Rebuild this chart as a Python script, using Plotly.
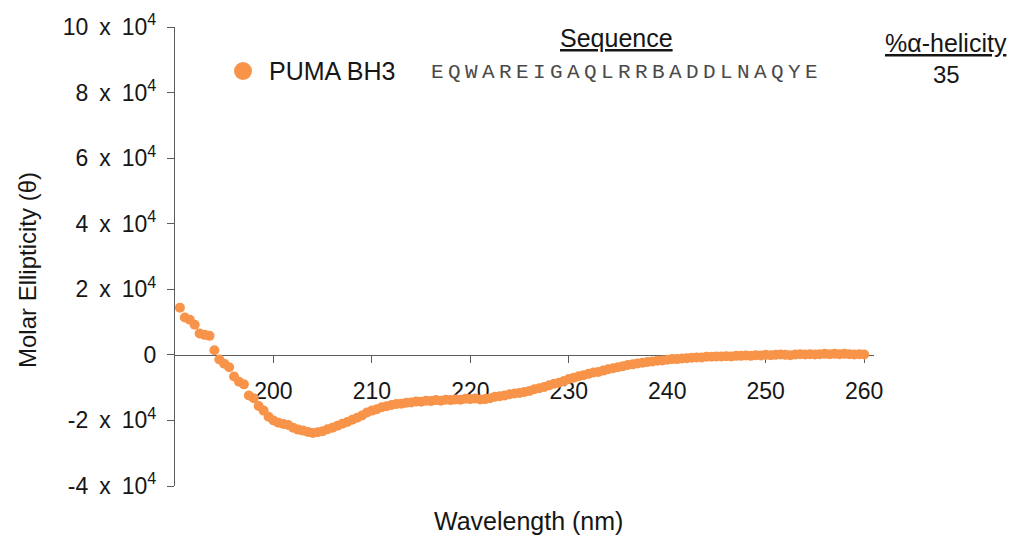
import plotly.graph_objects as go

# ---------------- data ----------------
wavelength_nm = [
    190.5, 191.0, 191.5, 192.0, 192.5, 193.0, 193.5, 194.0, 194.5, 195.0,
    195.5, 196.0, 196.5, 197.0, 197.5, 198.0, 198.5, 199.0, 199.5, 200.0,
    200.5, 201.0, 201.5, 202.0, 202.5, 203.0, 203.5, 204.0, 204.5, 205.0,
    205.5, 206.0, 206.5, 207.0, 207.5, 208.0, 208.5, 209.0, 209.5, 210.0,
    210.5, 211.0, 211.5, 212.0, 212.5, 213.0, 213.5, 214.0, 214.5, 215.0,
    215.5, 216.0, 216.5, 217.0, 217.5, 218.0, 218.5, 219.0, 219.5, 220.0,
    220.5, 221.0, 221.5, 222.0, 222.5, 223.0, 223.5, 224.0, 224.5, 225.0,
    225.5, 226.0, 226.5, 227.0, 227.5, 228.0, 228.5, 229.0, 229.5, 230.0,
    230.5, 231.0, 231.5, 232.0, 232.5, 233.0, 233.5, 234.0, 234.5, 235.0,
    235.5, 236.0, 236.5, 237.0, 237.5, 238.0, 238.5, 239.0, 239.5, 240.0,
    240.5, 241.0, 241.5, 242.0, 242.5, 243.0, 243.5, 244.0, 244.5, 245.0,
    245.5, 246.0, 246.5, 247.0, 247.5, 248.0, 248.5, 249.0, 249.5, 250.0,
    250.5, 251.0, 251.5, 252.0, 252.5, 253.0, 253.5, 254.0, 254.5, 255.0,
    255.5, 256.0, 256.5, 257.0, 257.5, 258.0, 258.5, 259.0, 259.5, 260.0,
]

molar_ellipticity = [
    14400, 11400, 10700, 9200, 6500, 6100, 5800, 1400, -1400, -2700,
    -3800, -6600, -8200, -9000, -12400, -13200, -15600, -17000, -18900, -20000,
    -20700, -21100, -21400, -22200, -22800, -23100, -23500, -23800, -23600, -23300,
    -22700, -22200, -21600, -21000, -20500, -19800, -19200, -18500, -17600, -17000,
    -16600, -16000, -15700, -15300, -15000, -14900, -14600, -14500, -14200, -14300,
    -14000, -14100, -13800, -14000, -13700, -13800, -13600, -13700, -13400, -13500,
    -13300, -13600, -13500, -13200, -12800, -12600, -12400, -12000, -11800, -11600,
    -11300, -11000, -10500, -10200, -9800, -9300, -8800, -8500, -8000, -7400,
    -7000, -6500, -6200, -5800, -5400, -5200, -4800, -4400, -4100, -3800,
    -3500, -3100, -2900, -2600, -2400, -2200, -2000, -1800, -1700, -1500,
    -1300, -1300, -1100, -1000, -900, -800, -800, -600, -600, -500,
    -500, -400, -500, -300, -300, -200, -300, -100, -200, 0,
    -100, 0, 100, 0, -100, 100, 200, 100, 200, 100,
    200, 300, 200, 300, 200, 300, 200, 100, 200, 100,
]

series_name = "PUMA BH3"
sequence = "EQWAREIGAQLRRBADDLNAQYE"
helicity_pct = "35"

x_tick_vals = [200, 210, 220, 230, 240, 250, 260]
y_tick_vals = [-40000, -20000, 0, 20000, 40000, 60000, 80000, 100000]
y_tick_text = ["-4\u2009 x\u2009 10<sup>4</sup>", "-2\u2009 x\u2009 10<sup>4</sup>", "0",
               "2\u2009 x\u2009 10<sup>4</sup>", "4\u2009 x\u2009 10<sup>4</sup>",
               "6\u2009 x\u2009 10<sup>4</sup>", "8\u2009 x\u2009 10<sup>4</sup>",
               "10\u2009 x\u2009 10<sup>4</sup>"]

assert len(wavelength_nm) == len(molar_ellipticity)

# ---------------- style ----------------
ORANGE = "#F8944A"
AXIS = "#5c5c5c"
TXT = "#161616"
FONT = "Liberation Sans, Arial, Helvetica, sans-serif"
MONO = "Liberation Mono, Courier New, monospace"

W, H = 1022, 539
L, R, T, B = 175, 148, 27, 53
pw, ph = W - L - R, H - T - B


def px(xp):
    return (xp - L) / pw


def py(yp):
    return (H - B - yp) / ph


fig = go.Figure()
fig.add_trace(go.Scatter(
    x=wavelength_nm, y=molar_ellipticity, mode="markers",
    name=series_name, showlegend=False,
    marker=dict(color=ORANGE, size=10, line=dict(width=0)),
))

y_min, y_max = -40000, 100000
zero_frac = (0 - y_min) / (y_max - y_min)

fig.update_layout(
    width=W, height=H,
    margin=dict(l=L, r=R, t=T, b=B, autoexpand=False),
    paper_bgcolor="white", plot_bgcolor="white",
    font=dict(family=FONT, size=23, color=TXT),
    xaxis=dict(
        range=[190, 261], anchor="free", position=zero_frac,
        showgrid=False, zeroline=False,
        showline=True, linecolor=AXIS, linewidth=1.3,
        ticks="outside", ticklen=7, tickwidth=1.3, tickcolor=AXIS,
        tickvals=x_tick_vals,
        tickfont=dict(size=23),
        ticklabelstandoff=8,
        layer="below traces",
    ),
    yaxis=dict(
        range=[y_min, y_max], showgrid=False, zeroline=False,
        showline=True, linecolor=AXIS, linewidth=1.3,
        ticks="outside", ticklen=7, tickwidth=1.3, tickcolor=AXIS,
        tickvals=y_tick_vals,
        ticktext=y_tick_text,
        tickfont=dict(size=23),
        ticklabelstandoff=6,
    ),
    shapes=[dict(
        type="circle", xref="paper", yref="paper",
        xsizemode="pixel", ysizemode="pixel",
        xanchor=px(243), yanchor=py(71),
        x0=-9, x1=9, y0=-9, y1=9,
        fillcolor=ORANGE, line=dict(width=0),
    )],
)

ann = [
    dict(text="Molar Ellipticity (θ)", x=px(27), y=py(270),
         textangle=-90, xanchor="center", yanchor="middle",
         font=dict(family=FONT, size=24, color=TXT)),
    dict(text="Wavelength (nm)", x=px(528), y=py(521),
         xanchor="center", yanchor="middle",
         font=dict(family=FONT, size=25, color=TXT)),
    dict(text=series_name, x=px(267), y=py(71),
         xanchor="left", yanchor="middle",
         font=dict(family=FONT, size=25, color=TXT)),
    dict(text=f"<span style='letter-spacing:4.4px'>{sequence}</span>",
         x=px(429), y=py(72), xanchor="left", yanchor="middle",
         font=dict(family=MONO, size=21, color="#4a4a4a")),
    dict(text="Sequence", x=px(616), y=py(38),
         xanchor="center", yanchor="middle",
         font=dict(family=FONT, size=25, color=TXT, lineposition="under")),
    dict(text="%α-helicity", x=px(946), y=py(43),
         xanchor="center", yanchor="middle",
         font=dict(family=FONT, size=25, color=TXT, lineposition="under")),
    dict(text=helicity_pct, x=px(946), y=py(74),
         xanchor="center", yanchor="middle",
         font=dict(family=FONT, size=24, color=TXT)),
]
for a in ann:
    a.update(xref="paper", yref="paper", showarrow=False)
fig.update_layout(annotations=ann)

fig.write_html("out.html")
